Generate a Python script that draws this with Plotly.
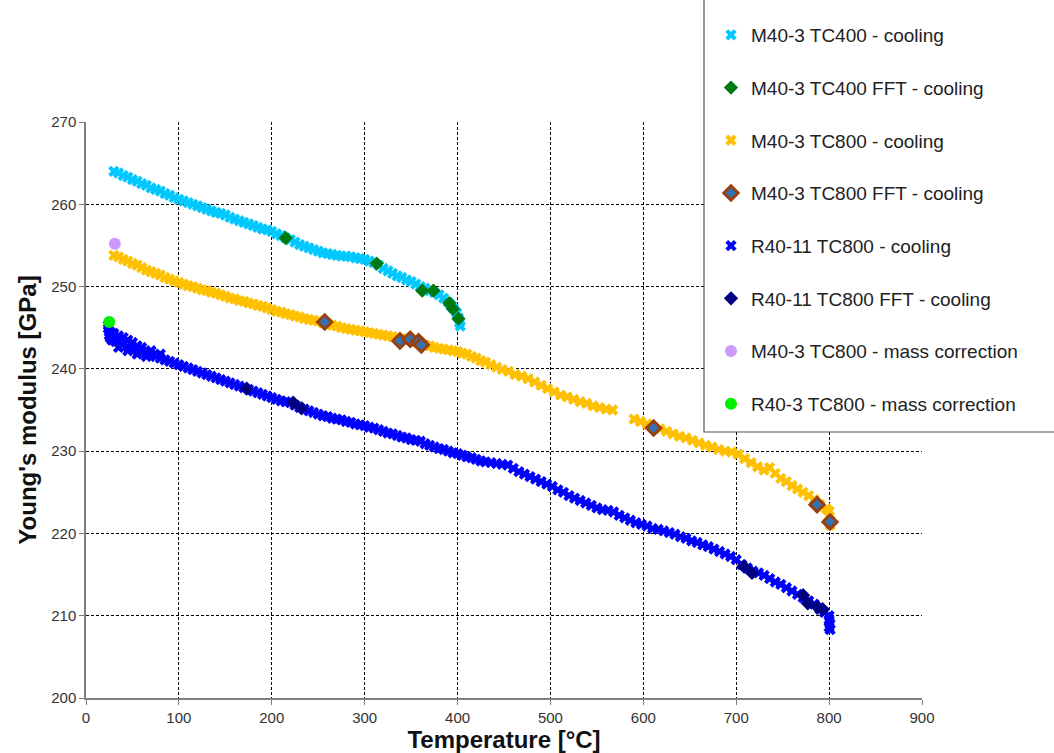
import plotly.graph_objects as go

# ---------------- data ----------------
tc400_T = [30, 35, 40, 45, 50, 55, 60, 65, 70, 75, 80, 85, 90, 95, 100, 105, 110, 115, 120, 125,
           130, 135, 140, 145, 150, 155, 160, 165, 170, 175, 180, 185, 190, 195, 200, 205, 210, 215,
           220, 225, 230, 235, 240, 245, 250, 255, 260, 265, 270, 275, 280, 285, 290, 295, 300, 305,
           310, 315, 320, 325, 330, 335, 340, 345, 350, 355, 360, 365, 370, 375, 380, 385, 390, 393,
           396, 399, 401, 402, 403]
tc400_E = [264.0, 263.8, 263.5, 263.3, 263.0, 262.8, 262.5, 262.3, 262.0, 261.8, 261.6, 261.3, 261.1,
           260.8, 260.6, 260.4, 260.2, 260.0, 259.8, 259.6, 259.4, 259.2, 259.0, 258.9, 258.7, 258.4,
           258.2, 258.0, 257.8, 257.6, 257.4, 257.2, 257.0, 256.9, 256.7, 256.4, 256.2, 255.9, 255.7,
           255.4, 255.1, 254.9, 254.7, 254.5, 254.3, 254.1, 254.0, 253.9, 253.8, 253.7, 253.7, 253.6,
           253.5, 253.4, 253.3, 253.1, 252.9, 252.6, 252.2, 251.9, 251.6, 251.3, 251.1, 250.8, 250.6,
           250.3, 250.0, 249.8, 249.5, 249.3, 249.0, 248.6, 248.1, 247.7, 247.3, 246.8, 246.2, 245.6,
           245.2]

tc400_fft_T = [215, 313, 362, 374, 391, 395, 401]
tc400_fft_E = [255.9, 252.8, 249.5, 249.5, 248.0, 247.3, 246.1]

tc800_T = [30, 35, 40, 45, 50, 55, 60, 65, 70, 75, 80, 85, 90, 95, 100, 105, 110, 115, 120, 125, 130,
           135, 140, 145, 150, 155, 160, 165, 170, 175, 180, 185, 190, 195, 200, 205, 210, 215, 220,
           225, 230, 235, 240, 245, 250, 255, 260, 265, 270, 275, 280, 285, 290, 295, 300, 305, 310,
           315, 320, 325, 330, 335, 340, 345, 350, 355, 360, 365, 370, 375, 380, 385, 390, 395, 400,
           405, 410, 415, 420, 425, 430, 436, 442, 448, 455, 462, 469, 476, 483, 490, 497, 504, 511,
           518, 525, 532, 539, 546, 553, 560, 567,
           590, 597, 604, 611, 618, 625, 632, 639, 646, 653, 660, 667, 674, 681, 688, 695, 702, 709,
           716, 723, 730, 736, 742, 748, 754, 760, 766, 772, 778, 784, 790, 797, 800, 800, 801, 801]
tc800_E = [253.8, 253.6, 253.3, 253.1, 252.8, 252.6, 252.3, 252.0, 251.8, 251.6, 251.4, 251.1, 250.9,
           250.7, 250.5, 250.3, 250.1, 250.0, 249.8, 249.6, 249.5, 249.3, 249.2, 249.0, 248.8, 248.6,
           248.5, 248.3, 248.2, 248.0, 247.9, 247.7, 247.6, 247.4, 247.2, 247.0, 246.9, 246.7, 246.6,
           246.4, 246.3, 246.1, 246.0, 245.9, 245.8, 245.6, 245.5, 245.3, 245.2, 245.0, 244.9, 244.8,
           244.7, 244.6, 244.5, 244.4, 244.3, 244.2, 244.1, 244.0, 243.9, 243.8, 243.7, 243.6, 243.5,
           243.3, 243.1, 242.9, 242.8, 242.6, 242.5, 242.4, 242.3, 242.2, 242.1, 241.9, 241.8, 241.5,
           241.3, 241.0, 240.8, 240.5, 240.2, 239.9, 239.7, 239.3, 239.1, 238.8, 238.4, 238.0, 237.6,
           237.2, 236.8, 236.6, 236.3, 236.0, 235.8, 235.5, 235.3, 235.1, 235.0,
           233.9, 233.6, 233.3, 232.9, 232.7, 232.4, 232.1, 231.8, 231.6, 231.3, 231.0, 230.7, 230.5,
           230.2, 230.0, 229.9, 229.6, 229.1, 228.6, 228.1, 227.7, 228.0, 227.3, 226.7, 226.3, 225.8,
           225.4, 225.0, 224.6, 224.1, 223.5, 223.0, 222.7, 222.1, 221.6, 221.0]

tc800_fft_T = [257, 338, 349, 358, 361, 611, 787, 801]
tc800_fft_E = [245.7, 243.4, 243.6, 243.3, 242.9, 232.8, 223.5, 221.4]

r40_T = [24, 24, 25, 25, 26, 27, 28, 30, 32, 35, 38, 40, 45, 50, 55, 60, 65, 70, 75, 80, 85, 90, 95,
         100, 105, 110, 115, 120, 125, 130, 135, 140, 145, 150, 155, 160, 165, 170, 175, 180, 185,
         190, 195, 200, 205, 210, 215, 220, 225, 230, 235, 240, 245, 250, 255, 260, 265, 270, 275,
         280, 285, 290, 295, 300, 305, 310, 315, 320, 325, 330, 335, 340, 345, 350, 355, 360, 365,
         370, 375, 380, 385, 390, 395, 400, 405, 410, 415, 420, 425, 430, 436, 442, 448, 454, 460,
         466, 472, 478, 484, 490, 496, 502, 508, 514, 520, 526, 532, 538, 544, 550, 556, 562, 568,
         574, 580, 586, 592, 598, 604, 610, 616, 622, 628, 634, 640, 646, 652, 658, 664, 670, 676,
         682, 688, 694, 700, 706, 712, 718, 724, 730, 736, 742, 748, 754, 760, 766, 772, 778, 784,
         790, 795, 800, 800, 801, 800, 801,
         30, 35, 40, 45, 50, 55, 60, 70, 80, 35, 45, 55, 65]
r40_E = [245.3, 244.9, 244.5, 244.1, 243.8, 244.4, 243.5, 243.9, 243.3, 243.5, 243.0, 243.1, 242.7,
         242.5, 242.3, 242.1, 241.9, 241.7, 241.5, 241.3, 241.1, 240.9, 240.7, 240.5, 240.3, 240.1,
         239.9, 239.7, 239.5, 239.3, 239.1, 238.9, 238.7, 238.5, 238.3, 238.1, 237.9, 237.7, 237.5,
         237.3, 237.1, 236.9, 236.7, 236.5, 236.3, 236.1, 236.0, 235.9, 235.6, 235.3, 235.1, 234.9,
         234.7, 234.5, 234.3, 234.2, 234.0, 233.9, 233.8, 233.6, 233.5, 233.3, 233.2, 233.1, 232.9,
         232.8, 232.6, 232.4, 232.2, 232.1, 231.9, 231.7, 231.6, 231.4, 231.3, 231.2, 230.9, 230.7,
         230.5, 230.3, 230.2, 230.0, 229.8, 229.7, 229.5, 229.3, 229.2, 229.0, 228.8, 228.7, 228.6,
         228.5, 228.4, 228.3, 227.9, 227.5, 227.2, 226.9, 226.6, 226.3, 226.0, 225.7, 225.3, 225.0,
         224.6, 224.3, 224.0, 223.7, 223.4, 223.1, 222.9, 222.8, 222.6, 222.2, 221.9, 221.6, 221.3,
         221.1, 220.9, 220.6, 220.5, 220.3, 220.1, 219.9, 219.6, 219.4, 219.1, 218.9, 218.6, 218.4,
         218.1, 217.8, 217.5, 217.2, 216.8, 216.2, 215.8, 215.4, 215.2, 214.9, 214.5, 214.1, 213.8,
         213.4, 213.0, 212.6, 212.2, 211.8, 211.4, 210.8, 210.4, 210.0, 209.5, 209.0, 208.6, 208.3,
         244.3, 244.0, 243.8, 243.5, 243.2, 242.8, 242.6, 242.2, 241.8, 242.6, 242.2, 241.8, 241.5]

r40_fft_T = [173, 223, 232, 708, 717, 772, 777, 788, 793]
r40_fft_E = [237.6, 235.9, 235.2, 216.0, 215.2, 212.5, 211.5, 211.0, 210.8]

m40_mass_T = [31]
m40_mass_E = [255.2]
r40_mass_T = [25]
r40_mass_E = [245.7]

x_ticks = [0, 100, 200, 300, 400, 500, 600, 700, 800, 900]
y_ticks = [200, 210, 220, 230, 240, 250, 260, 270]

FONT = "Liberation Sans, Arial, sans-serif"

fig = go.Figure()

def add(name, xs, ys, symbol, color, size, line_color=None, line_width=0):
    fig.add_trace(go.Scatter(
        x=xs, y=ys, mode="markers", name=name, legendgroup=name,
        marker=dict(symbol=symbol, color=color, size=size,
                    line=dict(color=line_color or color, width=line_width)),
    ))

add("M40-3 TC400 - cooling", tc400_T, tc400_E, "x", "#00C8FF", 10)
add("M40-3 TC400 FFT - cooling", tc400_fft_T, tc400_fft_E, "diamond", "#007A10", 11)
add("M40-3 TC800 - cooling", tc800_T, tc800_E, "x", "#FFC000", 10)
add("M40-3 TC800 FFT - cooling", tc800_fft_T, tc800_fft_E, "diamond", "#2E75B6", 11,
    line_color="#9A3F12", line_width=3)
add("R40-11 TC800 - cooling", r40_T, r40_E, "x", "#0000FF", 10)
add("R40-11 TC800 FFT - cooling", r40_fft_T, r40_fft_E, "diamond", "#000080", 11)
add("M40-3 TC800 - mass correction", m40_mass_T, m40_mass_E, "circle", "#CC99FF", 12)
add("R40-3 TC800 - mass correction", r40_mass_T, r40_mass_E, "circle", "#00EE00", 12)

axis_common = dict(
    showgrid=True, gridcolor="#000000", gridwidth=1, griddash="3px,2px",
    showline=True, linecolor="#808080", linewidth=1.5,
    ticks="outside", ticklen=5, tickcolor="#808080",
    tickfont=dict(family=FONT, size=15, color="#333333"),
    zeroline=False, automargin=False,
)

fig.update_layout(
    width=1054, height=753,
    margin=dict(l=86, r=132, t=122, b=55, autoexpand=False),
    paper_bgcolor="white", plot_bgcolor="white",
    font=dict(family=FONT, color="#222222"),
    xaxis=dict(range=[0, 900], tickvals=x_ticks,
               title=dict(text="<b>Temperature [°C]</b>", font=dict(family=FONT, size=24, color="#111111"),
                          standoff=0),
               **axis_common),
    yaxis=dict(range=[200, 270], tickvals=y_ticks,
               title=dict(text="<b>Young's modulus [GPa]</b>", font=dict(family=FONT, size=24, color="#111111"),
                          standoff=8),
               **axis_common),
    legend=dict(
        x=(711 - 86) / 836, y=(698 - 16) / 576, xanchor="left", yanchor="top",
        bgcolor="rgba(0,0,0,0)", borderwidth=0,
        font=dict(family=FONT, size=19, color="#222222"),
        tracegroupgap=25, itemwidth=30, traceorder="grouped",
        maxheight=740,
    ),
    shapes=[
        dict(type="rect", xref="paper", yref="paper",
             x0=(704 - 86) / 836, x1=(1070 - 86) / 836,
             y0=(698 - 432) / 576, y1=(698 + 8) / 576,
             fillcolor="white", line=dict(color="#555555", width=1.2), layer="above"),
    ],
    showlegend=True,
)

fig.write_html("out.html", config={"displayModeBar": False},
               post_script="document.body.style.margin='0px';")
